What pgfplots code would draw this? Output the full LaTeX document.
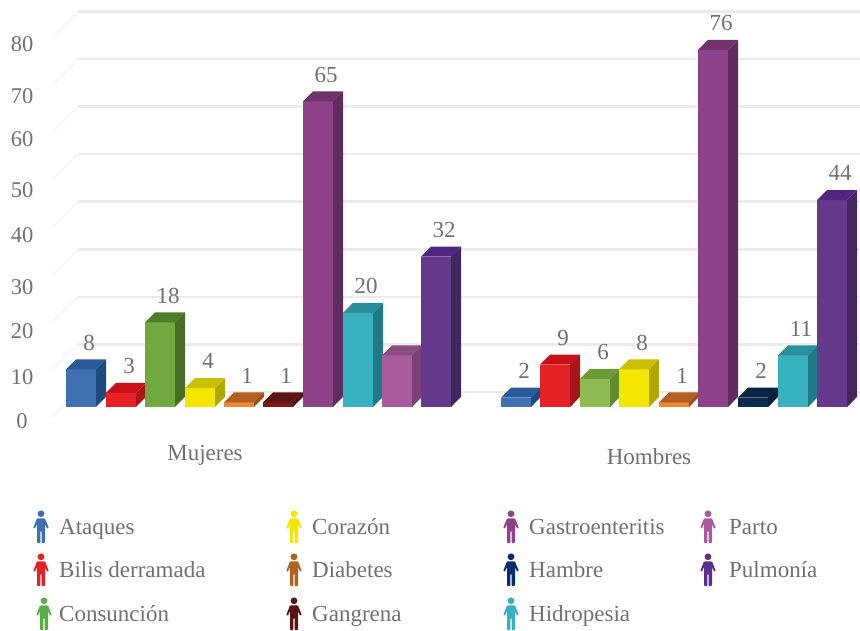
\documentclass[border=0pt]{standalone}
\usepackage{pgfplots}
\pgfplotsset{compat=1.18}
\usepackage{fontspec}
\setmainfont{Liberation Serif}
\definecolor{txt}{HTML}{707070}
\definecolor{gridc}{HTML}{ECECEC}
% front, side and top shades of each cause of death
\definecolor{ataF}{HTML}{3E70B2}\definecolor{ataS}{HTML}{1D4A7F}\definecolor{ataT}{HTML}{2A5A9A}
\definecolor{bilF}{HTML}{E42125}\definecolor{bilS}{HTML}{A8141A}\definecolor{bilT}{HTML}{C80F1A}
\definecolor{conF}{HTML}{71A83F}\definecolor{conS}{HTML}{476E26}\definecolor{conT}{HTML}{4F7D2C}
\definecolor{hcoF}{HTML}{8FBC50}\definecolor{hcoS}{HTML}{5F8C30}\definecolor{hcoT}{HTML}{6B9A37}
\definecolor{corF}{HTML}{F4E600}\definecolor{corS}{HTML}{AEA800}\definecolor{corT}{HTML}{C8C000}
\definecolor{diaF}{HTML}{EE8532}\definecolor{diaS}{HTML}{9A5018}\definecolor{diaT}{HTML}{B2601F}
\definecolor{ganF}{HTML}{7A1A1A}\definecolor{ganS}{HTML}{4D1010}\definecolor{ganT}{HTML}{5F1414}
\definecolor{gasF}{HTML}{8E4289}\definecolor{gasS}{HTML}{5E2C5E}\definecolor{gasT}{HTML}{6E3369}
\definecolor{hamF}{HTML}{0B2A4F}\definecolor{hamS}{HTML}{081E3A}\definecolor{hamT}{HTML}{0A2342}
\definecolor{hidF}{HTML}{38B1BF}\definecolor{hidS}{HTML}{1F7A85}\definecolor{hidT}{HTML}{2A8F9C}
\definecolor{parF}{HTML}{A85B9E}\definecolor{parS}{HTML}{7A4173}\definecolor{parT}{HTML}{8C4D84}
\definecolor{pulF}{HTML}{65398B}\definecolor{pulS}{HTML}{432560}\definecolor{pulT}{HTML}{4F2580}
% key colours
\definecolor{keyDia}{HTML}{B2601F}
\definecolor{keyCon}{HTML}{5AAE48}
\definecolor{keyGan}{HTML}{5A1212}
\definecolor{keyHam}{HTML}{062C73}
\definecolor{keyPul}{HTML}{5B2E90}
% one extruded column without a label: left edge, value, colour prefix
\newcommand{\columnbody}[3]{%
  \addplot[fill=#3F,draw=none] coordinates {(#1,0) (#1+30,0) (#1+30,#2) (#1,#2)} -- cycle;
  \addplot[fill=#3S,draw=none] coordinates {(#1+30,0) (#1+40,2.13) (#1+40,#2+2.13) (#1+30,#2)} -- cycle;
  \addplot[fill=#3T,draw=none] coordinates {(#1,#2) (#1+30,#2) (#1+40,#2+2.13) (#1+10,#2+2.13)} -- cycle;
}
% the same column with its value above it
\newcommand{\column}[3]{%
  \columnbody{#1}{#2}{#3}
  \node[text=txt,font=\fontsize{23}{23}\selectfont,anchor=center] at (axis cs:#1+23,#2+5.7) {#2};
}
% one floor-and-wall gridline, given its height on the wall
\newcommand{\wallline}[1]{%
  \addplot[draw=gridc,line width=1.4pt,opacity=.55] coordinates {(53,#1-5.3) (78,#1)};
  \addplot[draw=gridc,line width=2.6pt] coordinates {(78,#1) (860,#1)};
}
% tick label set slightly below its nominal place
\newcommand{\lbl}[2]{\raisebox{-#1pt}[\height][\depth]{#2}}
% pictogram of a person for the key
\newcommand{\person}[3]{%
  \begin{scope}[shift={(#1,#2)}]
    \fill[#3] (0,-13.2) circle (3.4);
    \fill[#3,rounded corners=.8] (-4,-8.6) -- (4,-8.6) -- (7.8,1) -- (6.2,1.8) -- (4,-3) -- (4,16) -- (.6,16) -- (.6,4) -- (-.6,4) -- (-.6,16) -- (-4,16) -- (-4,-3) -- (-6.2,1.8) -- (-7.8,1) -- cycle;
  \end{scope}
}
% key entry: icon x, row y, colour, text x, text
\newcommand{\keyitem}[5]{%
  \person{#1}{#2}{#3}
  \node[text=txt,anchor=base west,inner sep=0pt,font=\fontsize{23}{23}\selectfont] at (#4,#2+7) {#5};
}
\begin{document}
\begin{tikzpicture}
\useasboundingbox (0,0) rectangle (860pt,630pt);
\begin{axis}[
  at={(0,0)},anchor=south west,scale only axis,
  width=860pt,height=630pt,
  xmin=0,xmax=860,ymin=-47.447,ymax=86.596,
  axis line style={draw=none},
  major tick length=0pt,
  xtick=\empty,
  ytick={0,10,20,30,40,50,60,70,80},
  yticklabels={0,\lbl{3}{10},\lbl{4}{20},\lbl{7}{30},\lbl{2}{40},\lbl{4}{50},60,\lbl{4}{70},\lbl{-1}{80}},
  yticklabel style={anchor=center,xshift=22pt,yshift=-14pt,text=txt,font=\fontsize{22.5}{23}\selectfont},
  clip=false,
]
% wall gridlines
\wallline{3.2}
\wallline{13.3}
\wallline{23.4}
\wallline{33.5}
\wallline{43.7}
\wallline{53.8}
\wallline{63.9}
\wallline{74.0}
\wallline{84.1}
% Mujeres
\column{66}{8}{ata}
\column{106}{3}{bil}
\column{145}{18}{con}
\column{185}{4}{cor}
\column{224}{1}{dia}
\column{263}{1}{gan}
\column{303}{65}{gas}
\column{343}{20}{hid}
\columnbody{382}{11}{par}
\column{421}{32}{pul}
% Hombres
\column{501}{2}{ata}
\column{540}{9}{bil}
\column{580}{6}{hco}
\column{619}{8}{cor}
\column{659}{1}{dia}
\column{698}{76}{gas}
\column{738}{2}{ham}
\column{778}{11}{hid}
\column{817}{44}{pul}
\node[text=txt,font=\fontsize{23}{23}\selectfont] at (axis cs:205,-10.2) {Mujeres};
\node[text=txt,font=\fontsize{23}{23}\selectfont] at (axis cs:649,-10.6) {Hombres};
\end{axis}
\begin{scope}[x=1pt,y=-1pt,shift={(0,630pt)}]
\keyitem{41}{527}{ataF}{59}{Ataques}
\keyitem{41}{570}{bilF}{59}{Bilis derramada}
\keyitem{44}{614}{keyCon}{59}{Consunción}
\keyitem{294}{527}{corF}{312}{Corazón}
\keyitem{294}{570}{keyDia}{312}{Diabetes}
\keyitem{294}{614}{keyGan}{312}{Gangrena}
\keyitem{511}{527}{gasF}{529}{Gastroenteritis}
\keyitem{511}{570}{keyHam}{529}{Hambre}
\keyitem{511}{614}{hidF}{529}{Hidropesia}
\keyitem{708}{527}{parF}{729}{Parto}
\keyitem{708}{570}{keyPul}{729}{Pulmonía}
\end{scope}
\end{tikzpicture}
\end{document}
